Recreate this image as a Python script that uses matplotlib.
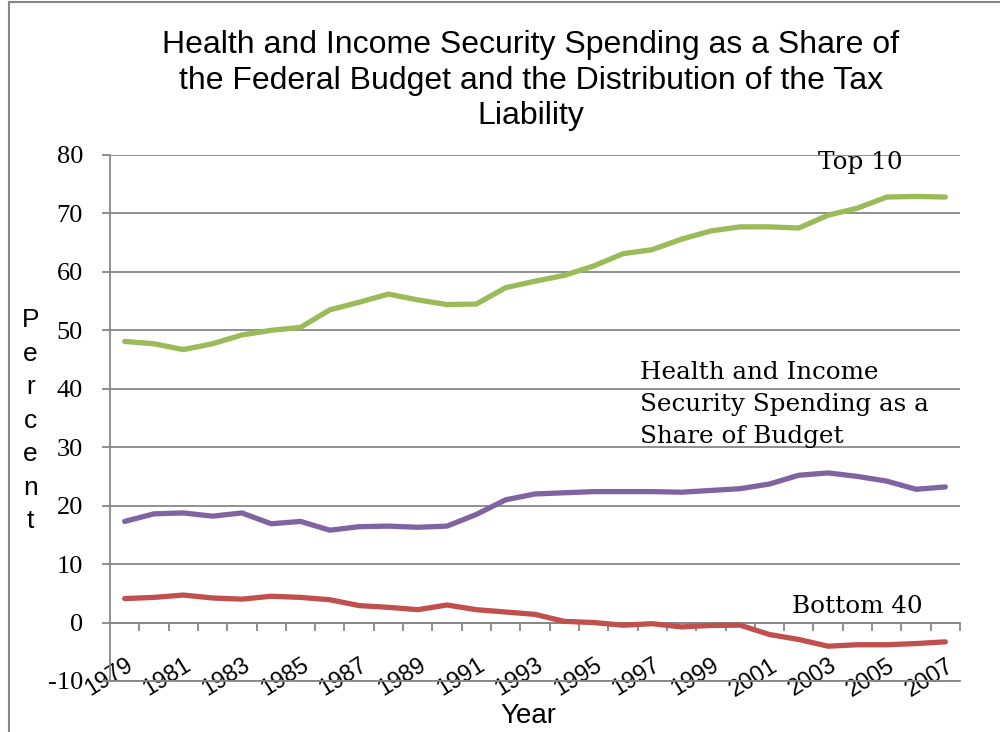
import matplotlib
matplotlib.use("Agg")
import matplotlib.pyplot as plt
from matplotlib.patches import Rectangle
import numpy as np

plt.rcParams["axes.unicode_minus"] = False

years = list(range(1979, 2008))
top10 = [48.1, 47.7, 46.7, 47.7, 49.2, 50.0, 50.5, 53.5, 54.8, 56.2, 55.2, 54.4, 54.5,
         57.3, 58.4, 59.4, 61.0, 63.1, 63.8, 65.6, 67.0, 67.7, 67.7, 67.5, 69.7, 70.9,
         72.8, 72.9, 72.8]
health = [17.3, 18.6, 18.75, 18.2, 18.75, 16.9, 17.3, 15.8, 16.4, 16.5, 16.3, 16.5, 18.5,
          21.0, 22.0, 22.2, 22.4, 22.4, 22.4, 22.3, 22.6, 22.9, 23.7, 25.2, 25.6, 25.0,
          24.2, 22.8, 23.2]
bottom40 = [4.1, 4.3, 4.7, 4.2, 4.0, 4.5, 4.3, 3.9, 2.9, 2.6, 2.2, 3.0, 2.2, 1.8, 1.4,
            0.2, 0.0, -0.45, -0.2, -0.75, -0.5, -0.45, -2.05, -2.9, -4.05, -3.8, -3.8,
            -3.6, -3.3]
yticks = [-10, 0, 10, 20, 30, 40, 50, 60, 70, 80]
xlabels_years = years[::2]

title = ("Health and Income Security Spending as a Share of\n"
         "the Federal Budget and the Distribution of the Tax\nLiability")

GREEN = "#9BBB59"
PURPLE = "#8064A2"
RED = "#C0504D"
GRID = "#878787"

fig = plt.figure(figsize=(10, 7.32), dpi=100)
fig.patches.append(Rectangle((0.009, -0.1), 1.2, 1.097, transform=fig.transFigure,
                             fill=False, edgecolor=GRID, linewidth=1.5))
ax = fig.add_axes([0.11, 0.0697, 0.85, 0.7186])

ax.plot(years, top10, color=GREEN, lw=3.8, solid_capstyle="round", zorder=3)
ax.plot(years, health, color=PURPLE, lw=3.8, solid_capstyle="round", zorder=3)
ax.plot(years, bottom40, color=RED, lw=3.8, solid_capstyle="round", zorder=3)

ax.set_xlim(1978.5, 2007.5)
ax.set_ylim(-10, 80)
ax.set_yticks(yticks)
ax.yaxis.grid(True, color=GRID, lw=1.3)
ax.set_axisbelow(True)
for s in ["top", "right"]:
    ax.spines[s].set_visible(False)
for s in ["left", "bottom"]:
    ax.spines[s].set_color(GRID)
    ax.spines[s].set_linewidth(1.3)
ax.tick_params(axis="y", direction="out", length=6, width=1.3, color=GRID,
               labelsize=19, pad=13.5)
for lab in ax.get_yticklabels():
    lab.set_fontfamily("Liberation Serif")
ax.set_xticks([])

# x axis line crossing at 0 with category tick marks
sec = ax.secondary_xaxis(1 / 9)
sec.set_xticks(np.arange(1979.5, 2008.0, 1.0))
sec.set_xticklabels([])
sec.tick_params(direction="out", length=6, width=1.3, color=GRID)
sec.spines["bottom"].set_color(GRID)
sec.spines["bottom"].set_linewidth(1.3)

# year labels, low position
lab_ax = ax.secondary_xaxis(0.052)
lab_ax.set_xticks(xlabels_years)
lab_ax.set_xticklabels([str(y) for y in xlabels_years], family="Liberation Sans",
                       fontsize=16.8)
lab_ax.tick_params(length=0, pad=0)
lab_ax.spines["bottom"].set_visible(False)
for lab in lab_ax.get_xticklabels():
    lab.set_rotation(32)
    lab.set_ha("right")
    lab.set_va("top")
    lab.set_rotation_mode("anchor")

fig.text(0.531, 0.89, title, ha="center", va="center", fontsize=23,
         family="Liberation Sans", linespacing=1.25)
fig.text(0.528, 0.0123, "Year", ha="center", va="baseline", fontsize=20,
         family="Liberation Sans")
fig.text(0.0305, 0.425, "P\ne\nr\nc\ne\nn\nt", ha="center", va="center", fontsize=19,
         family="Liberation Sans", linespacing=1.5)

ax.text(2004.1, 78.7, "Top 10", ha="center", va="center", fontsize=17.7,
        family="DejaVu Serif")
ax.text(1996.58, 37.3, "Health and Income\nSecurity Spending as a\nShare of Budget",
        ha="left", va="center", fontsize=17.7, family="DejaVu Serif", linespacing=1.49)
ax.text(2004.0, 2.7, "Bottom 40", ha="center", va="center", fontsize=17.7,
        family="DejaVu Serif")

fig.savefig("out.png", dpi=100)
